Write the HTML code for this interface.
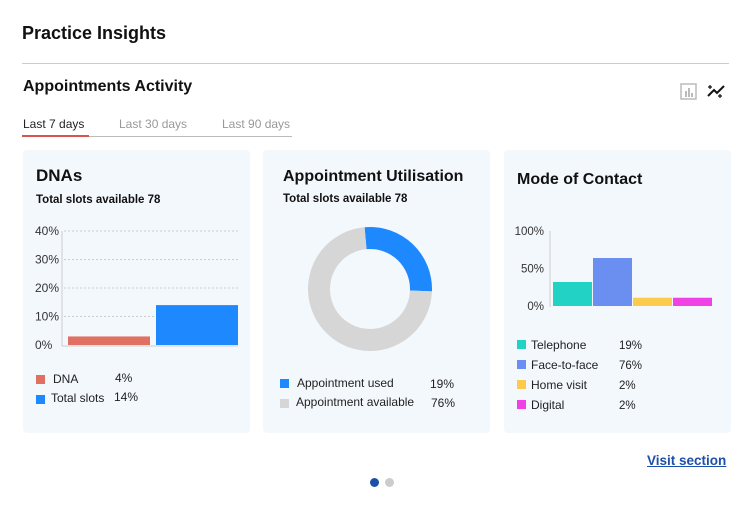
<!DOCTYPE html>
<html><head><meta charset="utf-8"><style>
*{margin:0;padding:0;box-sizing:border-box}
body{width:753px;height:508px;background:#fff;font-family:"Liberation Sans",sans-serif;color:#111;position:relative;overflow:hidden}
.a{position:absolute;white-space:nowrap}
.card{position:absolute;top:150px;height:283px;background:#f3f8fd;border-radius:4px}
.sw{position:absolute;width:9px;height:9px}
.lg{position:absolute;font-size:12px;color:#222}
</style></head><body>
<div class="a" style="left:22px;top:23px;font-size:18px;font-weight:bold">Practice Insights</div>
<div class="a" style="left:22px;top:63px;width:707px;height:1px;background:#ccc"></div>
<div class="a" style="left:23px;top:78px;font-size:16px;font-weight:bold">Appointments Activity</div>
<svg class="a" style="left:680px;top:83px" width="17" height="17"><rect x="1" y="1" width="15" height="15" fill="none" stroke="#bbb" stroke-width="1.5"/><rect x="5" y="8" width="2" height="6" fill="#bbb"/><rect x="8" y="5" width="2" height="9" fill="#bbb"/><rect x="11" y="10" width="2" height="4" fill="#bbb"/></svg>
<svg class="a" style="left:706px;top:82px" width="20" height="18"><path d="M2 14 L8 8 L11 11 L18 4" fill="none" stroke="#111" stroke-width="2"/><path d="M4 3v4M2 5h4M14 12v4M12 14h4" stroke="#111" stroke-width="1.2"/></svg>
<div class="a" style="left:23px;top:117px;font-size:12px;color:#222">Last 7 days</div>
<div class="a" style="left:119px;top:117px;font-size:12px;color:#999">Last 30 days</div>
<div class="a" style="left:222px;top:117px;font-size:12px;color:#999">Last 90 days</div>
<div class="a" style="left:22px;top:136px;width:270px;height:1px;background:#bbb"></div>
<div class="a" style="left:22px;top:135px;width:67px;height:2px;background:#d9534f"></div>

<div class="card" style="left:23px;width:227px"></div>
<div class="a" style="left:36px;top:166px;font-size:17px;font-weight:bold">DNAs</div>
<div class="a" style="left:36px;top:194px;font-size:11.5px;font-weight:bold">Total slots available 78</div>
<svg class="a" id="dna" style="left:0;top:0" width="260" height="440"></svg>
<div class="sw" style="left:36px;top:375px;background:#e07062"></div>
<div class="lg" style="left:53px;top:372px">DNA</div>
<div class="lg" style="left:115px;top:371px">4%</div>
<div class="sw" style="left:36px;top:395px;background:#1e88ff"></div>
<div class="lg" style="left:51px;top:391px">Total slots</div>
<div class="lg" style="left:114px;top:390px">14%</div>

<div class="card" style="left:263px;width:227px"></div>
<div class="a" style="left:283px;top:168px;font-size:16px;font-weight:bold">Appointment Utilisation</div>
<div class="a" style="left:283px;top:193px;font-size:11.5px;font-weight:bold">Total slots available 78</div>
<svg class="a" id="donut" style="left:0;top:0" width="500" height="440"></svg>
<div class="sw" style="left:280px;top:379px;background:#1e88ff"></div>
<div class="lg" style="left:297px;top:376px">Appointment used</div>
<div class="lg" style="left:430px;top:377px">19%</div>
<div class="sw" style="left:280px;top:399px;background:#d6d6d6"></div>
<div class="lg" style="left:296px;top:395px">Appointment available</div>
<div class="lg" style="left:431px;top:396px">76%</div>

<div class="card" style="left:504px;width:227px"></div>
<div class="a" style="left:517px;top:171px;font-size:16px;font-weight:bold">Mode of Contact</div>
<svg class="a" id="mode" style="left:0;top:0" width="753" height="440"></svg>

<div class="a" style="left:647px;top:453px;font-size:13.5px;font-weight:bold;color:#1d4fa8;text-decoration:underline">Visit section</div>
<div class="a" style="left:370px;top:478px;width:9px;height:9px;border-radius:50%;background:#1d4fa8"></div>
<div class="a" style="left:385px;top:478px;width:9px;height:9px;border-radius:50%;background:#ccc"></div>

<script>
const NS='http://www.w3.org/2000/svg';
const dnaCats=['DNA','Total slots'];
const dnaValues=[3,14];
const dnaTicks=[0,10,20,30,40];
const donutLabels=['Appointment used','Appointment available'];
const donutValues=[27,73];
const modeCats=['Telephone','Face-to-face','Home visit','Digital'];
const modeValues=[32,64,11,11];
const modeTicks=[0,50,100];
const modeLegendValues=['19%','76%','2%','2%'];
function mk(p,t,a){const e=document.createElementNS(NS,t);for(const k in a)e.setAttribute(k,a[k]);p.appendChild(e);return e;}
// DNA chart
(function(){
 const s=document.getElementById('dna');
 const y=v=>345-v*(114/40);
 dnaTicks.forEach(t=>{
  if(t>0){const l=mk(s,'line',{x1:64,x2:238,y1:y(t),y2:y(t),stroke:'#ccc','stroke-dasharray':'2,2'});
  
  }
  const tx=mk(s,'text',{x:35,y:y(t)+4,'font-size':12,fill:'#333','font-family':'Liberation Sans'});tx.textContent=t+'%';
  
  
 });
 const ax=mk(s,'line',{x1:62,x2:62,y1:231,y2:346,stroke:'#ccc'});
 
 
 const ax2=mk(s,'line',{x1:62,x2:238,y1:346,y2:346,stroke:'#ccc'});
 
 
 const cols=['#e07062','#1e88ff'];
 dnaValues.forEach((v,i)=>{
  const x=68+i*88;
  const r=mk(s,'rect',{x:x,y:y(v),width:82,height:345-y(v),fill:cols[i]});
  
  
 });
})();
// Donut
(function(){
 const s=document.getElementById('donut');
 const cx=370,cy=289,R=62,r=40;const cols=['#1e88ff','#d6d6d6'];
 const tot=donutValues.reduce((a,b)=>a+b,0);
 let a0=-5*Math.PI/180-Math.PI/2;
 donutValues.forEach((v,i)=>{
  const a1=a0+v/tot*2*Math.PI;const lg=(a1-a0)>Math.PI?1:0;
  const p=(rr,a)=>[cx+rr*Math.cos(a),cy+rr*Math.sin(a)];
  const [x1,y1]=p(R,a0),[x2,y2]=p(R,a1),[x3,y3]=p(r,a1),[x4,y4]=p(r,a0);
  const e=mk(s,'path',{d:`M${x1} ${y1}A${R} ${R} 0 ${lg} 1 ${x2} ${y2}L${x3} ${y3}A${r} ${r} 0 ${lg} 0 ${x4} ${y4}Z`,fill:cols[i]});
  
  
  a0=a1;
 });
})();
// Mode chart
(function(){
 const s=document.getElementById('mode');
 const y=v=>306-v*0.75;
 modeTicks.forEach(t=>{
  const tx=mk(s,'text',{x:544,y:y(t)+4,'font-size':11.5,fill:'#333','text-anchor':'end','font-family':'Liberation Sans'});tx.textContent=t+'%';
  
  
 });
 const ax=mk(s,'line',{x1:550,x2:550,y1:231,y2:307,stroke:'#ccc'});
 
 
 const cols=['#22d3c5','#6b8ff0','#fdcb4a','#f041e6'];
 modeValues.forEach((v,i)=>{
  const x=553+i*40;
  const r=mk(s,'rect',{x:x,y:y(v),width:39,height:306-y(v),fill:cols[i]});
  
  
  const sw=mk(s,'rect',{x:517,y:340+i*20,width:9,height:9,fill:cols[i]});
  
  
  const t=mk(s,'text',{x:531,y:349+i*20,'font-size':12,fill:'#222','font-family':'Liberation Sans'});t.textContent=modeCats[i];
  
  
  const t2=mk(s,'text',{x:619,y:349+i*20,'font-size':11.5,fill:'#222','font-family':'Liberation Sans'});t2.textContent=modeLegendValues[i];
  
  
 });
})();
</script>
</body></html>
